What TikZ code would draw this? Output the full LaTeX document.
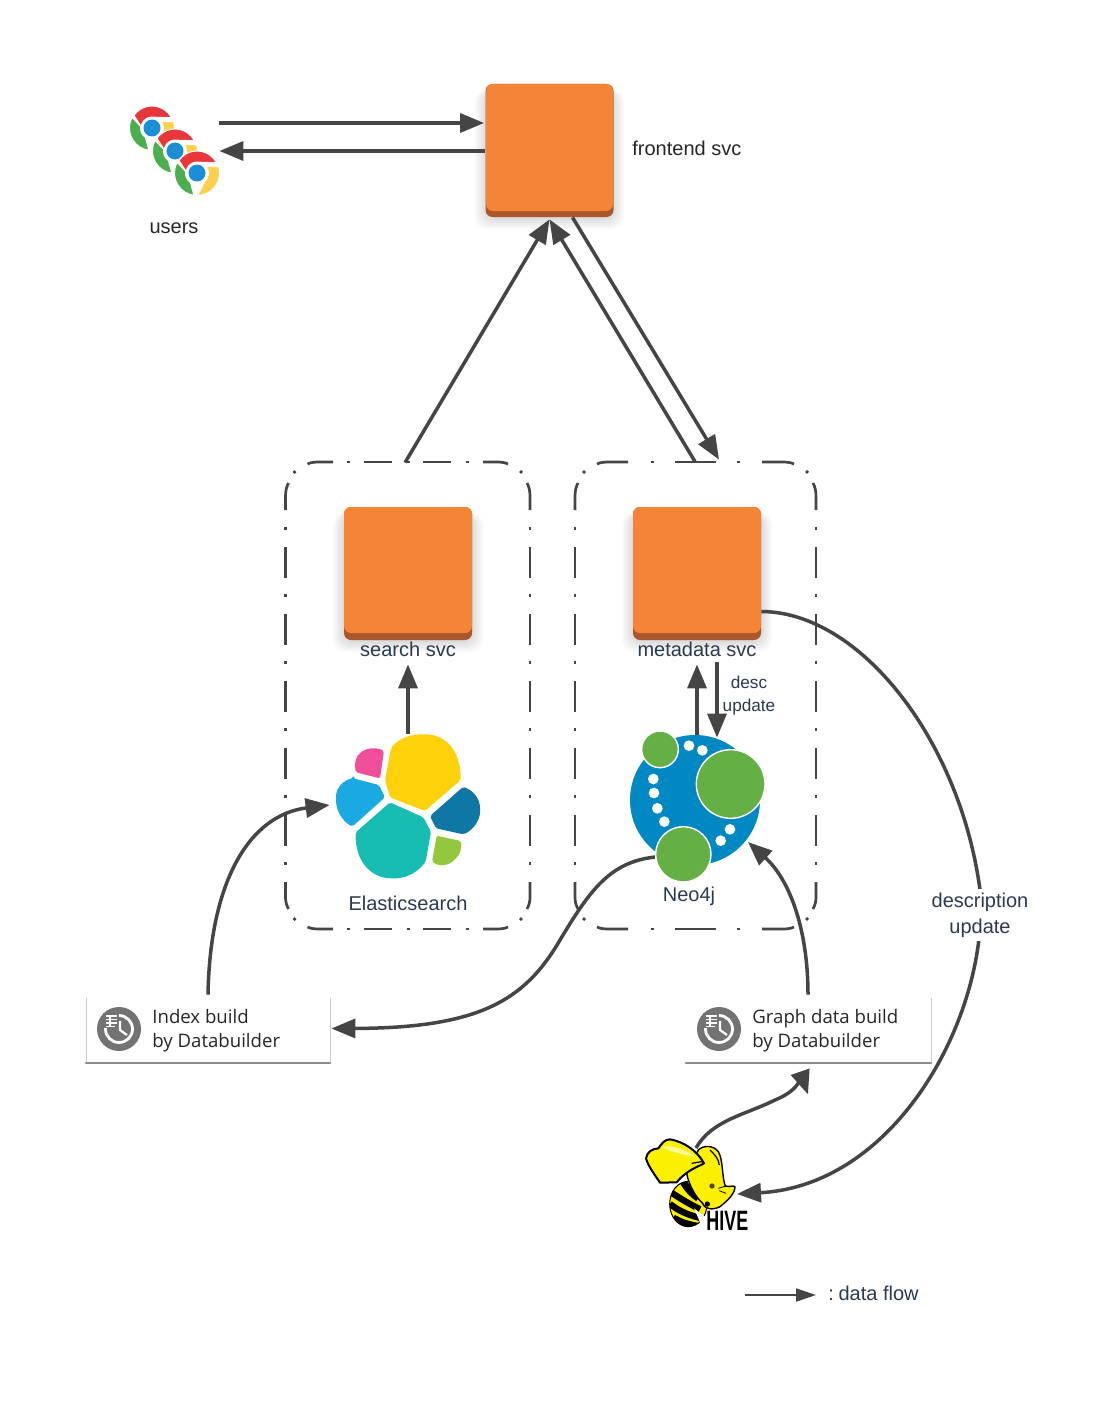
\documentclass[tikz,border=0pt]{standalone}
\usepackage{fontspec}
\setmainfont{Liberation Sans}
\newfontfamily\cardfont{Open Sans}
\usetikzlibrary{arrows.meta,calc}
\definecolor{lineGray}{HTML}{454545}
\definecolor{orangeTop}{HTML}{F58536}
\definecolor{orangeBase}{HTML}{A9572B}
\definecolor{labelInk}{HTML}{2C3A4F}
\definecolor{neoBlue}{HTML}{0088C2}
\definecolor{neoGreen}{HTML}{64B044}
\definecolor{hiveYellow}{HTML}{FBF000}
\definecolor{chromeRed}{HTML}{E8363A}
\definecolor{chromeYellow}{HTML}{FDD14B}
\definecolor{chromeGreen}{HTML}{4BAE4F}
\definecolor{chromeBlue}{HTML}{1B8ED6}
\newcommand{\softshadow}[4]{%
  \foreach \sp in {1,3,5,7,9,11}
    \fill[black,opacity=.022,rounded corners=6pt] (#1-\sp,#2) rectangle (#3+\sp,#4+\sp+1);
}
% #1 left, #2 right, #3 inner end of the left corner dash, #4 inner start of the right corner dash, #5 dots, #6 dash pairs
\newcommand{\dashgroup}[6]{%
  \begin{scope}[draw=lineGray,line width=1.35pt]
  \foreach \sx in {#1,#2}{
    \foreach \dy in {528,595,662,729,796,863} \draw (\sx,\dy-1.5) -- (\sx,\dy+1.5);
    \foreach \dy in {547,614,681,748,815} \draw (\sx,\dy) -- (\sx,\dy+31);
  }
  \draw (#1,510) -- (#1,497) .. controls (#1,490) and (#1+1,487) .. (#1+3,483);
  \draw (#2,510) -- (#2,497) .. controls (#2,490) and (#2-1,487) .. (#2-3,483);
  \draw (#1,882) -- (#1,897) .. controls (#1,902) and (#1+1,905) .. (#1+3,909);
  \draw (#2,882) -- (#2,897) .. controls (#2,902) and (#2-1,905) .. (#2-3,909);
  \foreach \ty/\ey/\cy in {462/464/472,929/927/919}{
    \draw (#1+22,\ey) .. controls (#1+26,\ty) and (#1+30,\ty) .. (#1+36,\ty) -- (#3,\ty);
    \draw (#2-22,\ey) .. controls (#2-26,\ty) and (#2-30,\ty) .. (#2-36,\ty) -- (#4,\ty);
    \draw (#1+8,\cy-1) -- (#1+10,\cy+1);
    \draw (#2-8,\cy-1) -- (#2-10,\cy+1);
    \foreach \dx in {#5} \draw (\dx-1.5,\ty) -- (\dx+1.5,\ty);
    \foreach \da/\db in {#6} \draw (\da,\ty) -- (\db,\ty);
  }
  \end{scope}
}
\tikzset{
  x=.5pt,y=-.5pt,
  flow/.style={draw=lineGray,line width=1.75pt,-{Triangle[length=12pt,width=9.5pt]}},
  svcbox/.style={rectangle,rounded corners=3.5pt,fill=orangeBase,minimum width=64pt,minimum height=66.5pt,inner sep=0pt},
  svctop/.style={fill=orangeTop,rounded corners=3.5pt},
  logo/.style={rectangle,inner sep=0pt},
  lab/.style={text=labelInk,font=\fontsize{10}{12}\selectfont,inner sep=0pt},
  labk/.style={text=black!85,font=\fontsize{10}{12}\selectfont,inner sep=0pt},
  smalllab/.style={text=labelInk,font=\fontsize{8.6}{10}\selectfont,inner sep=0pt},
  cardtext/.style={text=black!85,font=\cardfont\fontsize{9.3}{12}\selectfont,align=left,inner sep=0pt,anchor=west},
  card/.style={rectangle,minimum width=122pt,minimum height=32.5pt,inner sep=0pt},
  dotw/.style={fill=white},
  pics/chrome/.style={code={
    \begin{scope}[yscale=-1,draw=white,line width=.5pt]
    \filldraw[fill=chromeRed] (145:22) arc[start angle=145,end angle=28,radius=22] -- (2,10.8) arc[start angle=80,end angle=172,radius=11] -- cycle;
    \filldraw[fill=chromeYellow] (16:22.5) arc[start angle=16,end angle=-88,radius=22.5] -- (-50:11.5) arc[start angle=-50,end angle=35,radius=11.5] -- cycle;
    \filldraw[fill=chromeGreen] (152:22.5) arc[start angle=152,end angle=262,radius=22.5] -- (-125:11.5) arc[start angle=235,end angle=172,radius=11.5] -- cycle;
    \fill[white] (0,0) circle (11);
    \fill[chromeBlue] (0,0) circle (8.5);
    \end{scope}
  }},
  pics/clockicon/.style={code={
    \fill[black!55] (0,0) circle (22);
    \draw[white,line width=1.4pt] (0,0) circle (13.5);
    \fill[black!55] (-16,-16) rectangle (0,-1);
    \draw[white,line width=.9pt] (-13,-13) -- (-2,-13) (-13,-9.5) -- (-2,-9.5) (-13,-6) -- (-2,-6) (-13,-2.5) -- (-4,-2.5);
    \draw[white,line width=.6pt] (-9,-14) -- (-9,-2);
    \draw[white,line width=1.1pt] (1,-8) -- (1,1) -- (8,6);
  }}
}
\begin{document}
\begin{tikzpicture}
\useasboundingbox (0,0) rectangle (1113,1413);
\fill[white] (0,0) rectangle (1113,1413);

% dash-dot groups
\node[logo,minimum width=122pt,minimum height=233.5pt] (searchgroup) at (408,695.5) {};
\node[logo,minimum width=120.5pt,minimum height=233.5pt] (metagroup) at (695.5,695.5) {};
\dashgroup{285.5}{530}{333}{483}{348,408,467}{364/392,423/451}
\dashgroup{575}{816}{628}{762}{652,738}{675/716}

% service boxes
\softshadow{486}{90}{613}{217}
\softshadow{344}{513}{472}{640}
\softshadow{633}{513}{761}{640}
\node[svcbox] (frontend) at (549.5,150.5) {};
\fill[svctop] (486,84) rectangle (613,211);
\node[svcbox] (search) at (408,573.5) {};
\fill[svctop] (344,507) rectangle (472,633);
\node[svcbox] (metadata) at (697,573.5) {};
\fill[svctop] (633,507) rectangle (761,633);

% placeholders for logos
\node[logo,minimum width=45pt,minimum height=36pt] (users) at (174,150) {};
\node[logo,minimum width=75pt,minimum height=78pt] (elastic) at (408,808) {};
\node[logo,minimum width=50pt,minimum height=50pt] (hive) at (697,1187) {};
\node[card] (indexb) at (208,1030.5) {};
\node[card] (graphb) at (808,1030.5) {};

% Neo4j
\node[circle,fill=neoBlue,minimum size=65pt,inner sep=0pt] (neo) at (695,800) {};

% connectors
\draw[flow] ($(users.east)+(0,-27)$) -- ($(frontend.west)+(-1,-27.5)$);
\draw[flow] ($(frontend.west)+(0,.5)$) -- ($(users.east)+(0,1)$);
\draw[flow] ($(searchgroup.north)+(-3,1)$) -- ($(frontend.south)+(0,2)$);
\draw[flow] ($(metagroup.north)+(-.5,0)$) -- ($(frontend.south)+(0,2)$);
\draw[flow] ($(frontend.south)+(23,0)$) -- ($(metagroup.north)+(23.5,-2)$);
\draw[flow] ($(elastic.north)+(0,4)$) -- ($(search.south)+(0,24)$);
\draw[flow] ($(neo.north)+(2,0)$) -- ($(metadata.south)+(0,24)$);
\draw[flow] ($(metadata.south)+(20,22)$) -- ($(neo.north)+(22,3)$);
\draw[flow] ($(indexb.north)+(0,-3)$) .. controls (210,880) and (250,815) .. ($(elastic.west)+(-3,-3)$);
\draw[flow] (655,857) .. controls (610,862) and (590,890) .. (560,940) .. controls (525,1000) and (480,1028) .. ($(indexb.east)+(1,-2)$);
\draw[flow] ($(graphb.north)+(0,-3)$) .. controls (808,930) and (790,880) .. (748,842);
\draw[flow] (696,1148) .. controls (712,1120) and (745,1115) .. (775,1100) .. controls (795,1092) and (803,1080) .. ($(graphb.south)+(0,31)$);
\draw[flow] ($(metadata.east)+(0,38)$) .. controls (860,612) and (960,740) .. (980,890) .. controls (990,1010) and (900,1185) .. (737,1194);

% text on connectors
\node[lab,fill=white,align=center,inner sep=2pt,font=\fontsize{10}{13}\selectfont] (descl) at (980,915) {description\\update};

% Chrome icons
\pic at (152,128) {chrome};
\pic at (175,151) {chrome};
\pic at (197,173) {chrome};

% Elasticsearch logo
\begin{scope}[shift={(310,710)},scale=1/3]
  \fill[rounded corners=1pt,fill={rgb,255:red,254;green,209;blue,10}] (225,210) -- (243,115) .. controls (270,80) and (310,73) .. (340,73) .. controls (410,73) and (452,125) .. (452,210) -- (345,303) -- (240,262) -- cycle;
  \fill[rounded corners=1pt,fill={rgb,255:red,240;green,78;blue,152}] (210,205) -- (222,122) .. controls (195,110) and (135,110) .. (135,175) -- (138,187) -- cycle;
  \fill[rounded corners=1pt,fill={rgb,255:red,27;green,169;blue,225}] (130,205) -- (207,225) -- (225,262) -- (127,350) .. controls (100,335) and (78,305) .. (78,265) .. controls (78,235) and (100,210) .. (130,205) -- cycle;
  \fill[rounded corners=1pt,fill={rgb,255:red,23;green,189;blue,176}] (240,277) -- (340,322) -- (363,365) -- (347,455) .. controls (320,490) and (285,505) .. (250,505) .. controls (180,505) and (135,450) .. (137,367) -- cycle;
  \fill[rounded corners=1pt,fill={rgb,255:red,15;green,119;blue,164}] (460,230) .. controls (495,245) and (510,270) .. (510,300) .. controls (510,330) and (490,360) .. (460,373) -- (378,355) -- (360,318) -- cycle;
  \fill[rounded corners=1pt,fill={rgb,255:red,147;green,200;blue,62}] (380,377) -- (453,393) .. controls (458,435) and (425,465) .. (395,465) .. controls (385,465) and (375,462) .. (366,455) -- cycle;
\end{scope}

% Neo4j details
\begin{scope}[shift={(610,620)},scale=1/3]
  \foreach \cx/\cy in {237/377,277/391,130/477,132/519,142/565,163/605,332/662,360/628}
    \fill[dotw] (\cx,\cy) circle (16);
  \filldraw[fill=neoGreen,draw=white,line width=.7pt] (362,492) circle (103);
  \filldraw[fill=neoGreen,draw=white,line width=.7pt] (150,388) circle (55);
  \filldraw[fill=neoGreen,draw=white,line width=.7pt] (220,703) circle (83);
\end{scope}

% Hive logo
\begin{scope}[shift={(620,1050)},scale=1/3]
  \begin{scope}
    \clip (205,462) ellipse (56 and 68);
    \fill[hiveYellow] (140,380) rectangle (270,540);
    \draw[black,line width=3.6pt] (185,385) .. controls (195,410) and (215,430) .. (235,445);
    \draw[black,line width=3.2pt] (150,425) .. controls (180,445) and (205,460) .. (240,478);
    \draw[black,line width=3.2pt] (150,462) .. controls (180,485) and (205,495) .. (245,505);
    \draw[black,line width=3.2pt] (160,503) .. controls (185,518) and (205,523) .. (245,530);
  \end{scope}
  \draw[black,line width=.5pt] (205,462) ellipse (56 and 68);
  \fill[white] (222,475) -- (262,505) -- (245,530) -- (235,505) -- cycle;
  \filldraw[fill=hiveYellow,draw=black,line width=.7pt,line join=round] (235,300) .. controls (250,285) and (280,285) .. (295,305) .. controls (310,330) and (305,380) .. (316,408) .. controls (330,412) and (338,405) .. (345,410) .. controls (345,430) and (325,450) .. (300,470) .. controls (280,480) and (255,480) .. (248,460) .. controls (225,440) and (205,400) .. (200,370) -- cycle;
  \filldraw[fill=hiveYellow,draw=black,line width=1pt,line join=round] (78,325) .. controls (82,305) and (95,297) .. (115,295) .. controls (125,280) and (135,268) .. (150,268) .. controls (190,275) and (230,300) .. (252,340) .. controls (235,350) and (200,360) .. (170,397) -- (120,398) .. controls (105,375) and (85,350) .. (78,325) -- cycle;
  \fill[yellow!40!white] (125,290) .. controls (160,285) and (200,300) .. (225,320) .. controls (190,315) and (150,305) .. (125,290) -- cycle;
  \draw[black,line width=.6pt] (215,340) -- (245,335) (270,300) .. controls (285,315) and (295,325) .. (298,345);
  \fill[black!70] (276,408) circle (8);
  \draw[black,line width=.4pt] (295,415) -- (318,408) (298,422) -- (318,430);
  \fill[black] (262,462) circle (8);
  \node[inner sep=0pt,xscale=.64,font=\fontsize{14}{14}\bfseries\selectfont,text=black] (hivetext) at (322,514) {HIVE};
\end{scope}

% cards
\draw[black!20,line width=.5pt] (86,998) -- (86,1062);
\draw[black!20,line width=.5pt] (330,998) -- (330,1062);
\draw[black!45,line width=1.4pt,line cap=round] (86,1063) -- (330,1063);
\draw[black!20,line width=.5pt] (931,998) -- (931,1062);
\draw[black!45,line width=1.4pt,line cap=round] (686,1063) -- (931,1063);
\pic at (119,1029) {clockicon};
\pic at (719,1029) {clockicon};
\node[cardtext] (indext) at (152,1031) {Index build\\by Databuilder};
\node[cardtext] (grapht) at (752,1031) {Graph data build\\by Databuilder};

% labels
\node[labk] (usersl) at (174,228) {users};
\node[labk,anchor=west] (frontl) at (632,148) {frontend svc};
\node[lab] (searchl) at (408,649) {search svc};
\node[lab] (metal) at (697,649) {metadata svc};
\node[smalllab] (descl1) at (749,682) {desc};
\node[smalllab] (descl2) at (749,707) {update};
\node[lab] (elasticl) at (408,903) {Elasticsearch};
\node[lab] (neol) at (689,896) {Neo4j};

% legend
\coordinate (lega) at (745,1295);
\coordinate (legb) at (816,1295);
\draw[draw=lineGray,line width=1pt,-{Triangle[length=10pt,width=6.5pt]}] (lega) -- (legb);
\node[lab,anchor=west] (legl) at (828,1293) {:\kern-1.4pt{} data flow};
\end{tikzpicture}
\end{document}
